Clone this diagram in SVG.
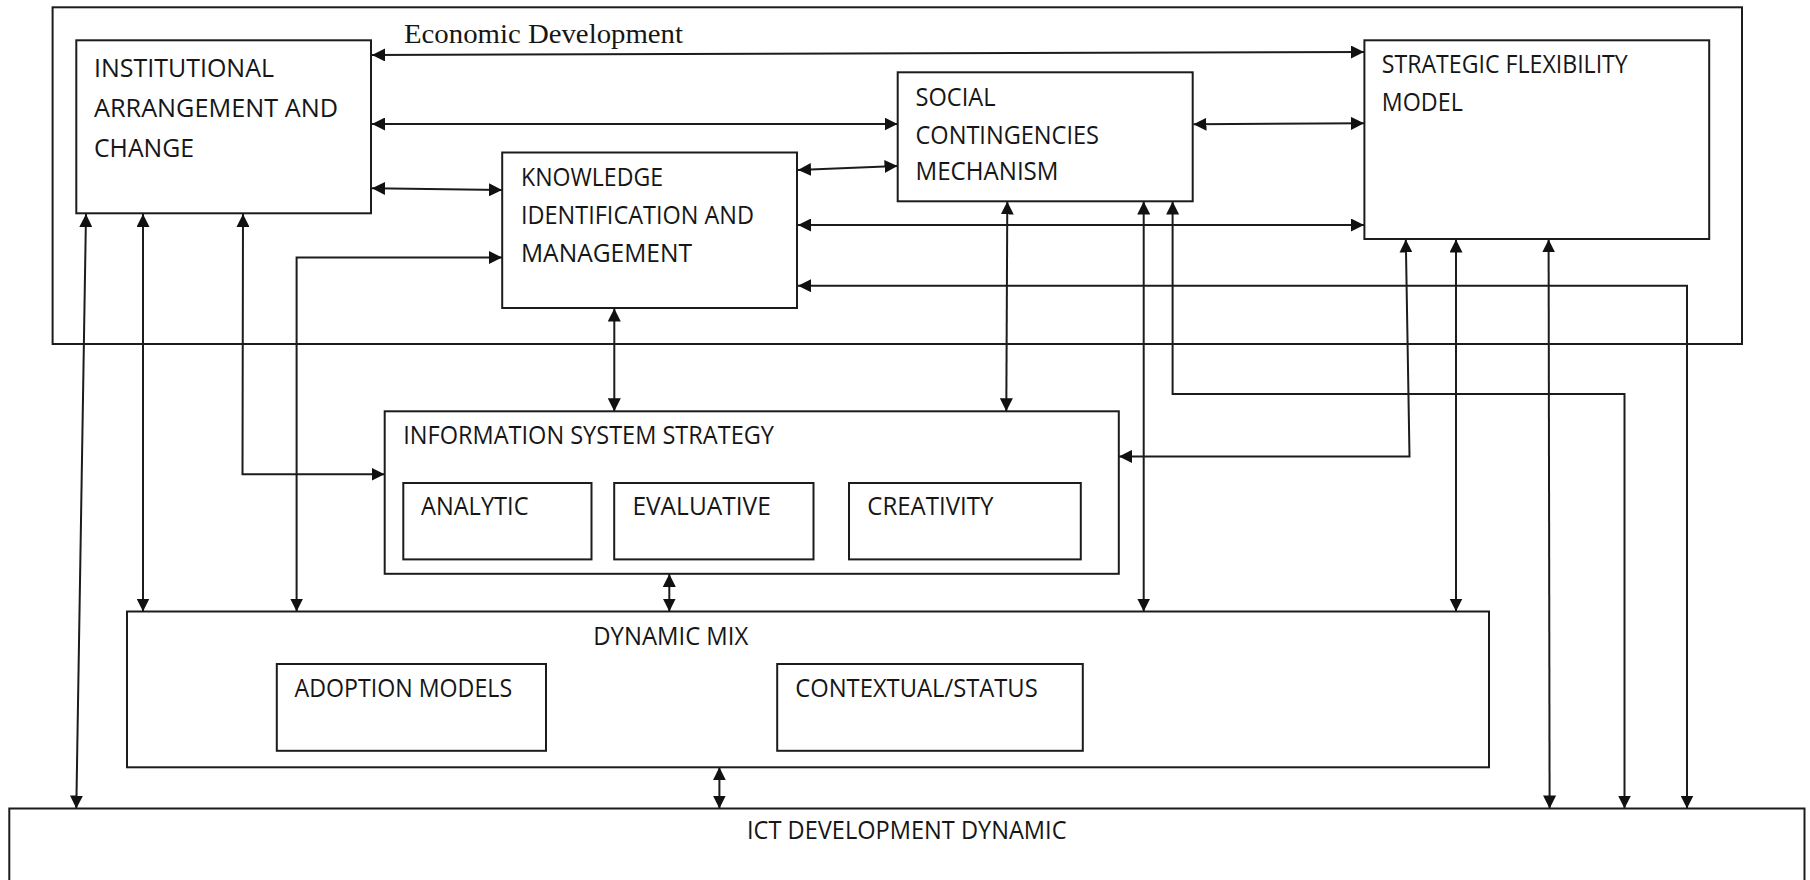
<svg xmlns="http://www.w3.org/2000/svg" width="1810" height="880" viewBox="0 0 1810 880">
  <style>
    .box { fill: #ffffff; stroke: #1c1c1c; stroke-width: 2; }
    .frame { fill: none; stroke: #1c1c1c; stroke-width: 2; }
    .lbl { font-family: "Open Sans", "Liberation Sans", sans-serif; font-size: 25px; fill: #161616; }
    .title { font-family: "Liberation Serif", serif; font-size: 27px; fill: #161616; }
    .conn { fill: none; stroke: #1c1c1c; stroke-width: 2; marker-start: url(#head); marker-end: url(#head); }
  </style>
  <defs>
    <marker id="head" markerUnits="userSpaceOnUse" markerWidth="13" markerHeight="13" refX="13" refY="6.5" orient="auto-start-reverse">
      <path d="M0,0 L13,6.5 L0,13 Z" fill="#111111"/>
    </marker>
  </defs>

  <rect width="1810" height="880" fill="#ffffff"/>

  <!-- Economic development frame -->
  <g id="economic-development">
    <rect class="frame" x="52.6" y="7.3" width="1689.4" height="336.7"/>
    <text class="title" x="404" y="42.7" textLength="279" lengthAdjust="spacingAndGlyphs">Economic Development</text>
  </g>

  <!-- Nodes -->
  <g id="institutional">
    <rect class="box" x="76.3" y="40.3" width="294.7" height="173"/>
    <text class="lbl" x="94" y="77.3" textLength="180" lengthAdjust="spacingAndGlyphs">INSTITUTIONAL</text>
    <text class="lbl" x="94" y="117.3" textLength="244" lengthAdjust="spacingAndGlyphs">ARRANGEMENT AND</text>
    <text class="lbl" x="94" y="156.7" textLength="100" lengthAdjust="spacingAndGlyphs">CHANGE</text>
  </g>

  <g id="knowledge">
    <rect class="box" x="502.2" y="152.5" width="294.8" height="155.5"/>
    <text class="lbl" x="521" y="185.7" textLength="142" lengthAdjust="spacingAndGlyphs">KNOWLEDGE</text>
    <text class="lbl" x="521" y="224" textLength="233" lengthAdjust="spacingAndGlyphs">IDENTIFICATION AND</text>
    <text class="lbl" x="521" y="261.7" textLength="171" lengthAdjust="spacingAndGlyphs">MANAGEMENT</text>
  </g>

  <g id="social">
    <rect class="box" x="897.7" y="72.3" width="295" height="129"/>
    <text class="lbl" x="915.5" y="106" textLength="80" lengthAdjust="spacingAndGlyphs">SOCIAL</text>
    <text class="lbl" x="915.5" y="144" textLength="183.5" lengthAdjust="spacingAndGlyphs">CONTINGENCIES</text>
    <text class="lbl" x="915.5" y="180" textLength="143" lengthAdjust="spacingAndGlyphs">MECHANISM</text>
  </g>

  <g id="strategic">
    <rect class="box" x="1364.4" y="40.3" width="344.8" height="198.7"/>
    <text class="lbl" x="1381.8" y="73.3" textLength="246" lengthAdjust="spacingAndGlyphs">STRATEGIC FLEXIBILITY</text>
    <text class="lbl" x="1381.8" y="111" textLength="81" lengthAdjust="spacingAndGlyphs">MODEL</text>
  </g>

  <g id="information-system">
    <rect class="box" x="384.7" y="411.3" width="734.1" height="162.5"/>
    <text class="lbl" x="403.3" y="444" textLength="370.7" lengthAdjust="spacingAndGlyphs">INFORMATION SYSTEM STRATEGY</text>
  </g>

  <g id="analytic">
    <rect class="box" x="403.3" y="483" width="188.2" height="76.4"/>
    <text class="lbl" x="421" y="515" textLength="107.5" lengthAdjust="spacingAndGlyphs">ANALYTIC</text>
  </g>

  <g id="evaluative">
    <rect class="box" x="614.2" y="483" width="199.3" height="76.4"/>
    <text class="lbl" x="632.4" y="515" textLength="138.4" lengthAdjust="spacingAndGlyphs">EVALUATIVE</text>
  </g>

  <g id="creativity">
    <rect class="box" x="849" y="483" width="231.8" height="76.4"/>
    <text class="lbl" x="867.3" y="515" textLength="126" lengthAdjust="spacingAndGlyphs">CREATIVITY</text>
  </g>

  <g id="dynamic-mix">
    <rect class="box" x="127" y="611.5" width="1362" height="155.8"/>
    <text class="lbl" x="593.3" y="644.5" textLength="155" lengthAdjust="spacingAndGlyphs">DYNAMIC MIX</text>
  </g>

  <g id="adoption">
    <rect class="box" x="276.8" y="664" width="269.2" height="86.8"/>
    <text class="lbl" x="294.6" y="697.4" textLength="217.5" lengthAdjust="spacingAndGlyphs">ADOPTION MODELS</text>
  </g>

  <g id="contextual">
    <rect class="box" x="777.2" y="664" width="305.6" height="86.8"/>
    <text class="lbl" x="795.3" y="697.4" textLength="242.4" lengthAdjust="spacingAndGlyphs">CONTEXTUAL/STATUS</text>
  </g>

  <g id="ict">
    <rect class="box" x="9.3" y="808.5" width="1795.2" height="100"/>
    <text class="lbl" x="747" y="839.3" textLength="319.5" lengthAdjust="spacingAndGlyphs">ICT DEVELOPMENT DYNAMIC</text>
  </g>

  <!-- Connectors (all two-way) -->
  <g id="connectors">
    <path class="conn" d="M372,55 L1364,52"/>
    <path class="conn" d="M372,124 L897.5,124"/>
    <path class="conn" d="M372,188.3 L502,190"/>
    <path class="conn" d="M798,170 L897.5,166"/>
    <path class="conn" d="M1193.5,124.3 L1364,123.3"/>
    <path class="conn" d="M798,225 L1364,225"/>
    <path class="conn" d="M798,285.7 L1687,285.7 L1687,808.5"/>
    <path class="conn" d="M86,214 L76.3,808.5"/>
    <path class="conn" d="M143,214 L143,611.5"/>
    <path class="conn" d="M243,214 L242.5,474.3 L384.5,474.3"/>
    <path class="conn" d="M502,257.5 L296.6,257.5 L296.6,611.5"/>
    <path class="conn" d="M614.3,308.5 L614.3,411.3"/>
    <path class="conn" d="M1007.3,201.5 L1006.3,411.3"/>
    <path class="conn" d="M1143.7,201.5 L1143.7,611.5"/>
    <path class="conn" d="M1172.6,201.5 L1172.6,394 L1624.5,394 L1624.5,808.5"/>
    <path class="conn" d="M1405.8,239.5 L1409.5,456.4 L1119,456.4"/>
    <path class="conn" d="M1456,239.5 L1456,611.5"/>
    <path class="conn" d="M1548.6,239.5 L1549.6,808.5"/>
    <path class="conn" d="M669.3,574 L669.3,611.5"/>
    <path class="conn" d="M719.4,767.3 L719.4,808.5"/>
  </g>
</svg>
